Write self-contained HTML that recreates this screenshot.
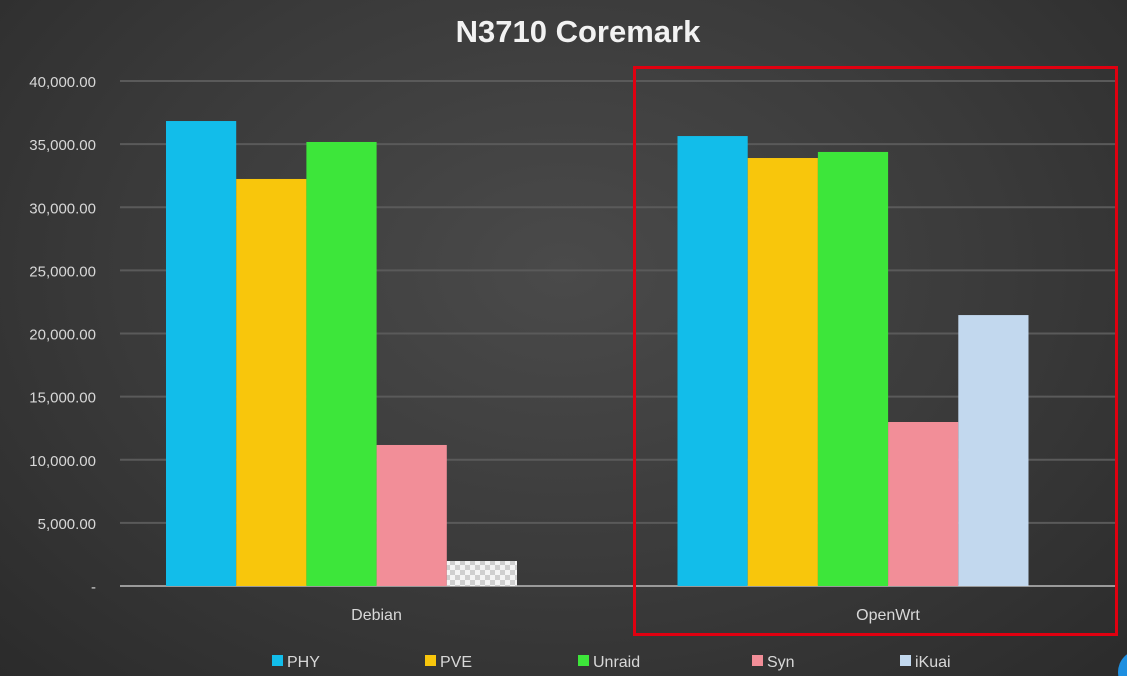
<!DOCTYPE html>
<html><head><meta charset="utf-8"><style>
html,body{margin:0;padding:0}
body{width:1127px;height:676px;overflow:hidden;background:radial-gradient(ellipse at 50% 40%,#4a4a4a 0%,#3a3a3a 55%,#2b2b2b 100%);font-family:"Liberation Sans","DejaVu Sans",sans-serif}
svg{display:block}
</style></head><body>
<svg id="chart" width="1127" height="676">
<defs>
<pattern id="checker" width="10" height="10" patternUnits="userSpaceOnUse">
<rect width="10" height="10" fill="#f4f4f4"/><rect width="5" height="5" fill="#cfcfcf"/><rect x="5" y="5" width="5" height="5" fill="#cfcfcf"/>
</pattern>
</defs>
<text x="578" y="42" text-anchor="middle" font-size="31" font-weight="bold" fill="#f2f2f2">N3710 Coremark</text>
<g id="grid"></g><g id="bars"></g><g id="labels"></g>
<rect x="634.5" y="67.5" width="482" height="567" fill="none" stroke="#e00010" stroke-width="3"/>
<g id="legend"></g>
<circle cx="1140" cy="672" r="22" fill="#1e8fe0"/>
</svg>
<script>
const categories=["Debian","OpenWrt"];
const seriesNames=["PHY","PVE","Unraid","Syn","iKuai"];
const seriesColors=["#12bdea","#f8c60c","#3de63a","#f28e98","#c2d8ee"];
const phy=[36830,35640];
const pve=[32240,33900];
const unraid=[35170,34380];
const syn=[11170,12990];
const ikuai=[1980,21460];
const yTicks=[0,5000,10000,15000,20000,25000,30000,35000,40000];
const yTickLabels=["-","5,000.00","10,000.00","15,000.00","20,000.00","25,000.00","30,000.00","35,000.00","40,000.00"];
const series=[phy,pve,unraid,syn,ikuai];
const NS="http://www.w3.org/2000/svg";
const gridL=120,gridR=1115,y0=586,yTop=81,yMax=40000;
function y(v){return y0-(v/yMax)*(y0-yTop);}
const groupW=511.5,groupL=85.75;
function gx(i){return groupL+groupW*i+groupW/2;}
const barW=70.2;
function mk(tag,attrs,parent){const e=document.createElementNS(NS,tag);for(const k in attrs)e.setAttribute(k,attrs[k]);document.getElementById(parent).appendChild(e);return e;}
yTicks.forEach((t,i)=>{
 const l=mk('line',{x1:gridL,x2:gridR,y1:y(t),y2:y(t),stroke:t===0?'#9a9a9a':'#5a5a5a','stroke-width':2},'grid');
 
 
 const tx=mk('text',{x:96,y:y(t)+6,'text-anchor':'end','font-size':15,fill:'#d8d8d8'},'grid');
 tx.textContent=yTickLabels[i];
 
 
});
categories.forEach((c,ci)=>{
 const start=gx(ci)-barW*series.length/2;
 series.forEach((s,si)=>{
  const r=mk('rect',{x:start+si*barW,y:y(s[ci]),width:barW,height:y0-y(s[ci]),fill:(ci===0&&si===4)?'url(#checker)':seriesColors[si]},'bars');
  
  
 });
 const t=mk('text',{x:gx(ci)+35,y:620,'text-anchor':'middle','font-size':16,fill:'#d8d8d8'},'labels');
 t.textContent=c;
 
 
});
const legX=[272,425,578,752,900];
seriesNames.forEach((n,i)=>{
 const r=mk('rect',{x:legX[i],y:655,width:11,height:11,fill:seriesColors[i]},'legend');
 
 
 const t=mk('text',{x:legX[i]+15,y:667,'font-size':16,fill:'#d8d8d8'},'legend');
 t.textContent=n;
 
 
});
</script>
</body></html>
